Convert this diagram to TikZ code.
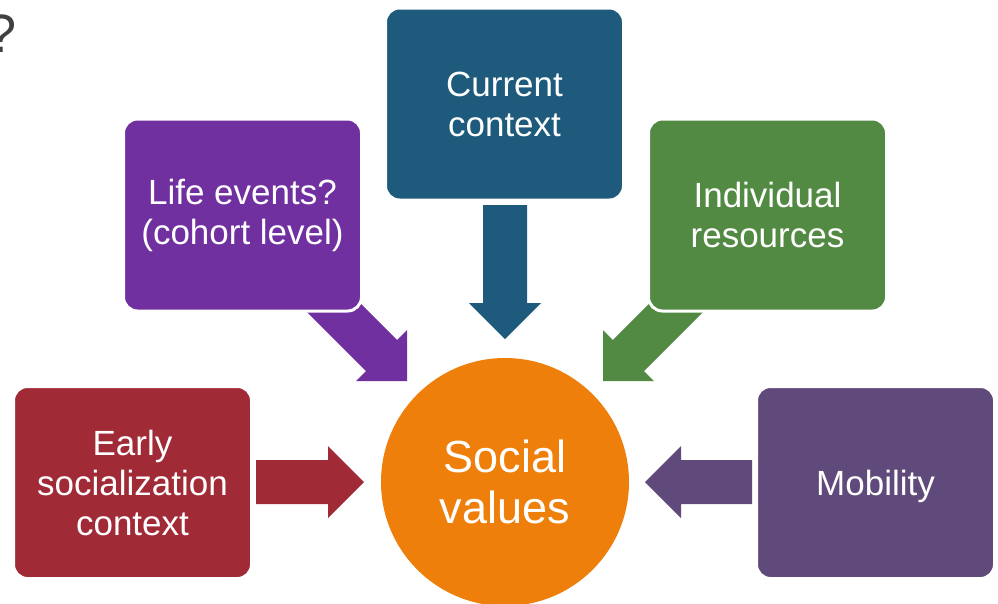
\documentclass[tikz,border=0pt]{standalone}
\usepackage{fontspec}
\setmainfont{Liberation Sans}
\usetikzlibrary{calc}
\definecolor{cpurple}{HTML}{7030A0}
\definecolor{cblue}{HTML}{1E5A7C}
\definecolor{cgreen}{HTML}{528A43}
\definecolor{cred}{HTML}{A12A37}
\definecolor{cmob}{HTML}{604A7B}
\definecolor{corange}{HTML}{EE7F0B}
\definecolor{cgray}{HTML}{404040}
% #1 colour, #2 tail coordinate, #3 tip coordinate
\newcommand\blockarrow[3]{%
  \path ($(#3)!36pt!(#2)$) coordinate (H);
  \fill[#1] ($(#2)!22pt!90:(#3)$) -- ($(H)!22pt!90:(#3)$) -- ($(H)!36pt!90:(#3)$)
    -- (#3) -- ($(H)!36pt!-90:(#3)$) -- ($(H)!22pt!-90:(#3)$)
    -- ($(#2)!22pt!-90:(#3)$) -- cycle;
}
\begin{document}
\begin{tikzpicture}[x=1pt,y=-1pt,
  box/.style={rectangle, rounded corners=14pt, draw=white, line width=3pt,
    minimum width=238pt, minimum height=192pt, inner sep=0pt, align=center,
    text=white, font=\fontsize{35}{40}\selectfont},
  hub/.style={circle, minimum size=248pt, inner sep=0pt, align=center,
    text=white, font=\fontsize{45}{51}\selectfont}]
\useasboundingbox (0,0) rectangle (998,603);
\clip (0,0) rectangle (998,603);

% arrow end points
\coordinate (redtail) at (256,482);   \coordinate (redtip) at (364,482);
\coordinate (mobtail) at (752,482);   \coordinate (mobtip) at (645,482);
\coordinate (curtail) at (505,205);   \coordinate (curtip) at (505,339);
\coordinate (lifetail) at (315,289);  \coordinate (lifetip) at (407,381);
\coordinate (indtail) at (695,289);   \coordinate (indtip) at (603,381);

\blockarrow{cred}{redtail}{redtip}
\blockarrow{cmob}{mobtail}{mobtip}
\blockarrow{cblue}{curtail}{curtip}
\blockarrow{cpurple}{lifetail}{lifetip}
\blockarrow{cgreen}{indtail}{indtip}

\node[box, fill=cpurple] (life) at (242.5,215) {Life events?\\(cohort level)};
\node[box, fill=cblue] (current) at (504.5,104) {Current\\context};
\node[box, fill=cgreen] (indiv) at (767.5,215) {Individual\\resources};
\node[box, fill=cred] (early) at (132.5,482.5) {Early\\socialization\\context};
\node[box, fill=cmob, text depth=0pt] (mob) at (875.5,482.5) {Mobility};
\node[hub, fill=corange] (social) at (505,482) {Social\\values};

\node[anchor=base east, inner sep=0pt, text=cgray, font=\fontsize{54}{60}\selectfont] (q) at (17,52) {?};
\end{tikzpicture}
\end{document}
